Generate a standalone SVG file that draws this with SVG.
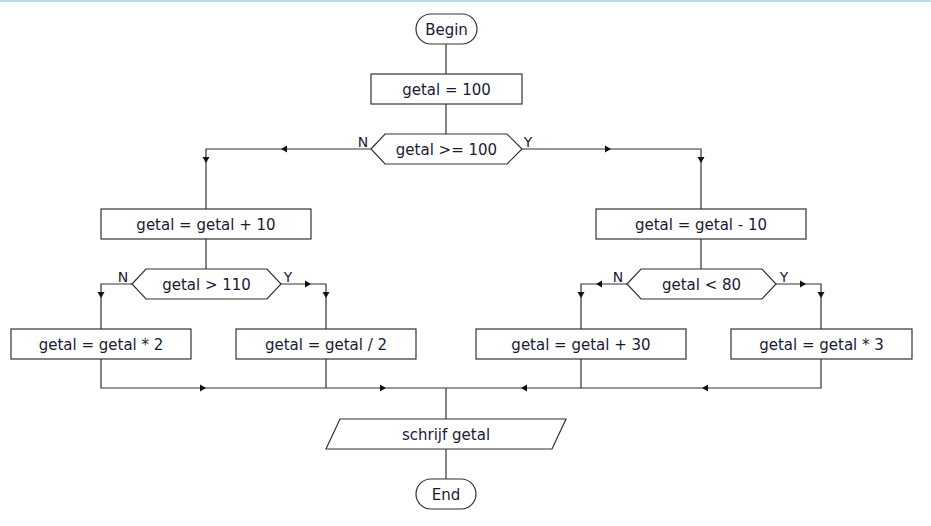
<svg xmlns="http://www.w3.org/2000/svg" xmlns:xlink="http://www.w3.org/1999/xlink" width="931" height="526" viewBox="0 0 931 526">
<style>
.shape{fill:#fff;stroke:#333;stroke-width:1.2}
.t{font-family:"DejaVu Sans",Verdana,sans-serif;font-size:15px;fill:#1a1a33;text-anchor:middle;dominant-baseline:central}
.lbl{font-family:"DejaVu Sans",Verdana,sans-serif;font-size:14px;fill:#1a1a33;text-anchor:middle}
.c{fill:none;stroke:#333;stroke-width:1.2}
.ah{fill:#111}
</style>
<defs>
<path id="ah" class="ah" d="M0,0 L-6,-3.5 L-6,3.5 Z"/>
</defs>
<rect x="0" y="0" width="931" height="526" fill="#fff"/>
<line x1="0" y1="1" x2="931" y2="1" stroke="#b3def0" stroke-width="2"/>
<g id="connectors">
<path class="c" d="M446,44 V74 M446,104 V134"/>
<path class="c" d="M371,149 H206 V209 M522,149 H701 V209"/>
<path class="c" d="M206,239 V269 M701,239 V269"/>
<path class="c" d="M132,284 H101 V329 M281,284 H326 V329"/>
<path class="c" d="M627,284 H581 V329 M776,284 H821 V329"/>
<path class="c" d="M101,359 V388 H821 V359 M326,359 V388 M581,359 V388"/>
<path class="c" d="M446,388 V419 M446,449 V479"/>
<use xlink:href="#ah" transform="translate(281,149) rotate(180)"/>
<use xlink:href="#ah" transform="translate(206,163) rotate(90)"/>
<use xlink:href="#ah" transform="translate(611,149)"/>
<use xlink:href="#ah" transform="translate(701,163) rotate(90)"/>
<use xlink:href="#ah" transform="translate(101,298) rotate(90)"/>
<use xlink:href="#ah" transform="translate(311,284)"/>
<use xlink:href="#ah" transform="translate(326,298) rotate(90)"/>
<use xlink:href="#ah" transform="translate(596,284) rotate(180)"/>
<use xlink:href="#ah" transform="translate(581,298) rotate(90)"/>
<use xlink:href="#ah" transform="translate(806,284)"/>
<use xlink:href="#ah" transform="translate(821,298) rotate(90)"/>
<use xlink:href="#ah" transform="translate(206,388)"/>
<use xlink:href="#ah" transform="translate(386,388)"/>
<use xlink:href="#ah" transform="translate(521,388) rotate(180)"/>
<use xlink:href="#ah" transform="translate(702,388) rotate(180)"/>
<text class="lbl" x="363" y="147">N</text>
<text class="lbl" x="528" y="147">Y</text>
<text class="lbl" x="123" y="282">N</text>
<text class="lbl" x="288" y="282">Y</text>
<text class="lbl" x="618" y="282">N</text>
<text class="lbl" x="784" y="282">Y</text>
</g>
<g id="begin"><rect class="shape" x="416" y="14" width="61" height="30" rx="15"/><text class="t" x="446.5" y="30">Begin</text></g>
<g id="init"><rect class="shape" x="371" y="74" width="151" height="30"/><text class="t" x="446.5" y="90">getal = 100</text></g>
<g id="dec1"><polygon class="shape" points="371,149 385,134 507,134 522,149 507,164 385,164"/><text class="t" x="446.5" y="150">getal &gt;= 100</text></g>
<g id="plus10"><rect class="shape" x="101" y="209" width="210" height="30"/><text class="t" x="206" y="225">getal = getal + 10</text></g>
<g id="min10"><rect class="shape" x="596" y="209" width="210" height="30"/><text class="t" x="701" y="225">getal = getal - 10</text></g>
<g id="dec2"><polygon class="shape" points="132,284 146,269 267,269 281,284 267,299 146,299"/><text class="t" x="206.5" y="285">getal &gt; 110</text></g>
<g id="dec3"><polygon class="shape" points="627,284 641,269 762,269 776,284 762,299 641,299"/><text class="t" x="701.5" y="285">getal &lt; 80</text></g>
<g id="maal2"><rect class="shape" x="11" y="329" width="180" height="30"/><text class="t" x="101" y="345">getal = getal * 2</text></g>
<g id="deel2"><rect class="shape" x="236" y="329" width="180" height="30"/><text class="t" x="326" y="345">getal = getal / 2</text></g>
<g id="plus30"><rect class="shape" x="476" y="329" width="210" height="30"/><text class="t" x="581" y="345">getal = getal + 30</text></g>
<g id="maal3"><rect class="shape" x="731" y="329" width="181" height="30"/><text class="t" x="821.5" y="345">getal = getal * 3</text></g>
<g id="schrijf"><polygon class="shape" points="340,419 566,419 552,449 326,449"/><text class="t" x="446" y="435">schrijf getal</text></g>
<g id="end"><rect class="shape" x="416" y="479" width="60" height="30" rx="15"/><text class="t" x="446" y="495">End</text></g>
</svg>
